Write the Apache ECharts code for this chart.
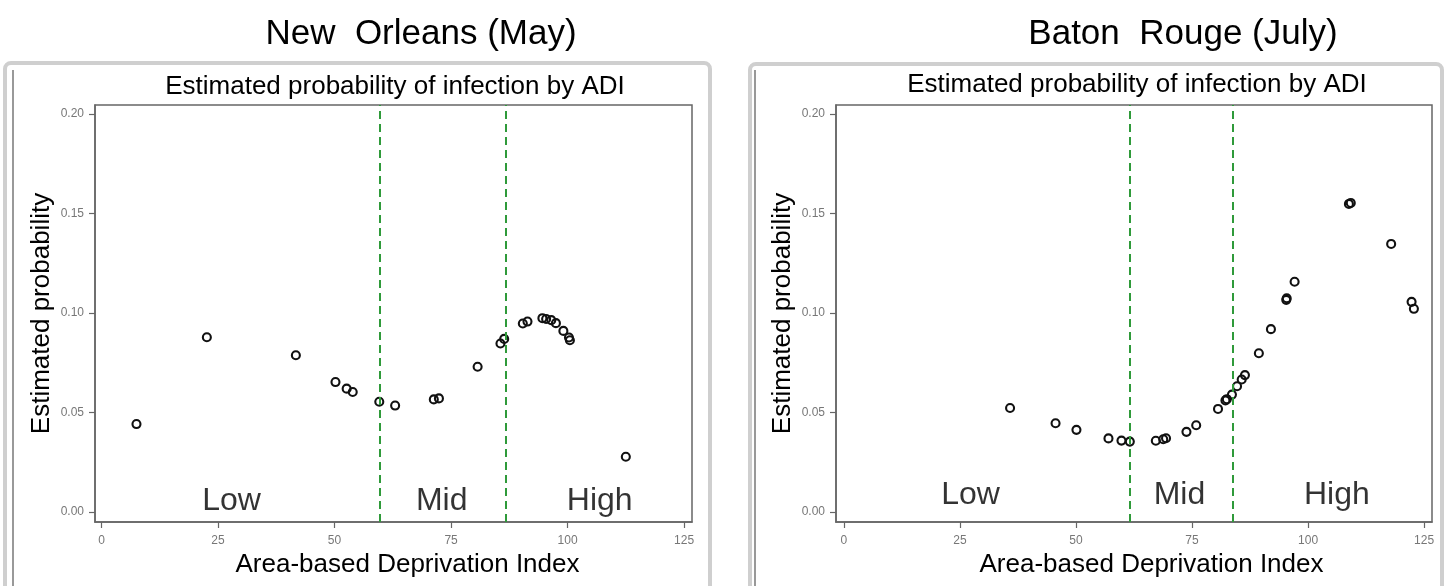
<!DOCTYPE html>
<html>
<head>
<meta charset="utf-8">
<script src="https://cdn.jsdelivr.net/npm/echarts@6/dist/echarts.min.js"></script>
<style>
html,body{margin:0;padding:0;background:#fff;}
#c{width:1449px;height:586px;}
</style>
</head>
<body>
<div id="c"></div>
<script>
// ---- data ----
const panelTitles = ['New  Orleans (May)', 'Baton  Rouge (July)'];
const subTitle = 'Estimated probability of infection by ADI';
const xName = 'Area-based Deprivation Index';
const yName = 'Estimated probability';
const xTicks = [0, 25, 50, 75, 100, 125];
const yTicks = [0, 0.05, 0.10, 0.15, 0.20];
const regionNames = ['Low', 'Mid', 'High'];

// New Orleans (May)
const noADI = [7.5, 22.6, 41.7, 50.2, 52.6, 53.9, 59.6, 63.0, 71.3, 72.4, 80.7, 85.6, 86.4, 90.4, 91.4, 94.6, 95.4, 96.5, 97.5, 99.1, 100.3, 100.5, 112.5];
const noProb = [0.0442, 0.0878, 0.0788, 0.0653, 0.0620, 0.0603, 0.0554, 0.0535, 0.0566, 0.0571, 0.0730, 0.0847, 0.0870, 0.0947, 0.0957, 0.0974, 0.0970, 0.0964, 0.0949, 0.0910, 0.0877, 0.0863, 0.0278];
const noCuts = [59.6, 86.7];
const noRegionX = [27.9, 73.0, 106.9];

// Baton Rouge (July)
const brADI = [35.8, 45.6, 50.1, 57.0, 59.8, 61.6, 67.2, 68.8, 69.4, 73.8, 75.9, 80.6, 82.2, 82.5, 83.6, 84.7, 85.7, 86.4, 89.4, 92.0, 95.3, 95.4, 97.1, 108.8, 109.2, 117.9, 122.3, 122.8];
const brProb = [0.0523, 0.0446, 0.0413, 0.0370, 0.0359, 0.0354, 0.0358, 0.0366, 0.0371, 0.0403, 0.0436, 0.0518, 0.0561, 0.0567, 0.0590, 0.0632, 0.0666, 0.0688, 0.0798, 0.0919, 0.1066, 0.1074, 0.1157, 0.1548, 0.1553, 0.1347, 0.1056, 0.1021];
const brCuts = [61.6, 83.7];
const brRegionX = [27.3, 72.3, 106.2];

// ---- chart ----
const FONT = '"Liberation Sans", Arial, Helvetica, sans-serif';
const chart = echarts.init(document.getElementById('c'), null, {renderer: 'canvas'});

const grids = [
  {left: 95, top: 105, width: 597, height: 417},
  {left: 836, top: 105, width: 596, height: 417}
];
const xRanges = [[-1.4, 126.7], [-1.7, 126.7]];
const labelY = [0.0055, 0.0085];

function zip(a, b) { return a.map((v, i) => [v, b[i]]); }

const xAxes = [], yAxes = [], series = [];
const sets = [
  {x: noADI, y: noProb, cuts: noCuts, rx: noRegionX},
  {x: brADI, y: brProb, cuts: brCuts, rx: brRegionX}
];
sets.forEach((s, i) => {
  xAxes.push({
    type: 'value', gridIndex: i, min: xRanges[i][0], max: xRanges[i][1],
    axisLine: {show: true, onZero: false, lineStyle: {color: '#666', width: 1.5}},
    axisTick: {show: true, customValues: xTicks, length: 6, lineStyle: {color: '#666', width: 1.2}},
    axisLabel: {customValues: xTicks, color: '#777', fontSize: 12, fontFamily: FONT, margin: 13},
    splitLine: {show: false},
    name: xName, nameLocation: 'middle', nameGap: 30,
    nameTextStyle: {fontSize: 26, color: '#000', fontFamily: FONT, padding: [0, 0, 0, i === 0 ? 28 : 35]}
  });
  yAxes.push({
    type: 'value', gridIndex: i, min: -0.005, max: 0.2045,
    axisLine: {show: true, onZero: false, lineStyle: {color: '#666', width: 1.5}},
    axisTick: {show: true, customValues: yTicks, length: 6, lineStyle: {color: '#666', width: 1.2}},
    axisLabel: {customValues: yTicks, color: '#777', fontSize: 12, fontFamily: FONT, margin: 11,
      formatter: v => v.toFixed(2)},
    splitLine: {show: false},
    name: yName, nameLocation: 'middle', nameGap: 40, nameRotate: 90,
    nameTextStyle: {fontSize: 26, color: '#000', fontFamily: FONT}
  });
  series.push({
    type: 'scatter', xAxisIndex: i, yAxisIndex: i,
    data: zip(s.x, s.y),
    symbol: 'circle', symbolSize: 8,
    itemStyle: {color: 'rgba(255,255,255,0)', borderColor: '#111', borderWidth: 2.1, opacity: 1},
    emphasis: {disabled: true},
    markLine: {
      silent: true, symbol: ['none', 'none'], label: {show: false},
      lineStyle: {color: '#2f9a3a', width: 2, type: [8, 5]},
      data: s.cuts.map(c => ({xAxis: c}))
    },
    z: 3
  });
  series.push({
    type: 'scatter', xAxisIndex: i, yAxisIndex: i,
    data: s.rx.map((x, k) => ({value: [x, labelY[i]], name: regionNames[k]})),
    symbolSize: 0, silent: true,
    label: {show: true, position: 'inside', formatter: p => p.name, fontSize: 32, color: '#000', fontFamily: FONT}
  });
});

const graphics = [
  {type: 'rect', shape: {x: 5, y: 63, width: 705, height: 540, r: 6}, style: {fill: 'none', stroke: '#cfcfcf', lineWidth: 4}, z: -10},
  {type: 'rect', shape: {x: 750, y: 64, width: 692, height: 540, r: 6}, style: {fill: 'none', stroke: '#cfcfcf', lineWidth: 4}, z: -10},
  {type: 'line', shape: {x1: 13, y1: 70, x2: 13, y2: 586}, style: {stroke: '#555', lineWidth: 1.2}, z: -9},
  {type: 'line', shape: {x1: 755, y1: 70, x2: 755, y2: 586}, style: {stroke: '#555', lineWidth: 1.2}, z: -9},
  {type: 'text', x: 421, y: 34, style: {text: panelTitles[0], font: '35px ' + FONT, fill: '#000', align: 'center', verticalAlign: 'middle'}},
  {type: 'text', x: 1183, y: 34, style: {text: panelTitles[1], font: '35px ' + FONT, fill: '#000', align: 'center', verticalAlign: 'middle'}},
  {type: 'text', x: 395, y: 87, style: {text: subTitle, font: '26px ' + FONT, fill: '#000', align: 'center', verticalAlign: 'middle'}},
  {type: 'text', x: 1137, y: 85, style: {text: subTitle, font: '26px ' + FONT, fill: '#000', align: 'center', verticalAlign: 'middle'}}
];

chart.setOption({
  animation: false,
  backgroundColor: '#fff',
  grid: grids.map(g => Object.assign({show: true, borderColor: '#666', borderWidth: 1.5, backgroundColor: 'transparent'}, g)),
  xAxis: xAxes,
  yAxis: yAxes,
  series: series,
  graphic: graphics
});
</script>
</body>
</html>
